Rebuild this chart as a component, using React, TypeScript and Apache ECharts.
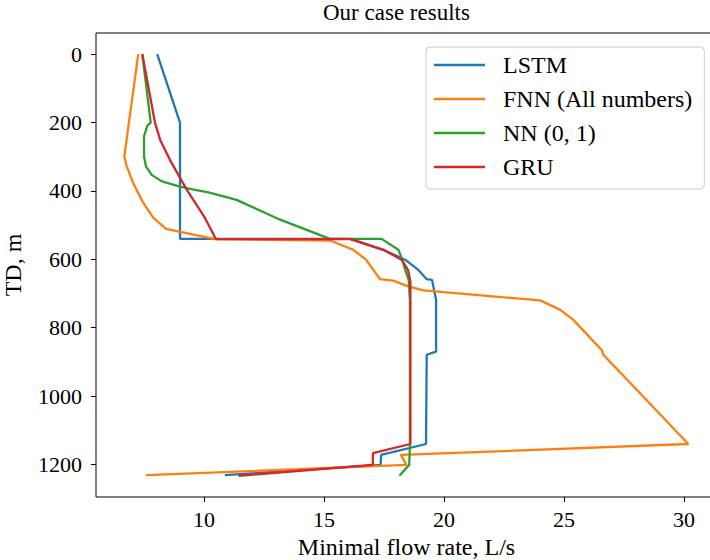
import React, { useEffect, useRef } from "react";
import * as echarts from "echarts";

// ---- Data ----
const seriesNames = ["LSTM", "FNN (All numbers)", "NN (0, 1)", "GRU"];
const seriesColors = ["#1f77b4", "#ff7f0e", "#2ca02c", "#d62728"];

const lstmRate = [8.05, 9.0, 9.0, 16.1, 17.47, 18.38, 18.93, 19.28, 19.5, 19.67, 19.67, 19.28, 19.25, 17.38, 17.36, 10.87];
const lstmDepth = [0, 200, 540, 540, 572, 601, 631, 658, 660, 718, 870, 879, 1140, 1172, 1201, 1231];

const fnnRate = [7.26, 6.68, 6.78, 7.05, 7.47, 7.89, 8.42, 10.46, 15.25, 16.22, 16.75, 17.33, 17.89, 18.51, 19.14, 24.0, 24.83, 25.39, 26.57, 26.64, 30.18, 18.2, 18.44, 7.58];
const fnnDepth = [0, 299, 328, 377, 435, 479, 511, 541, 545, 572, 601, 658, 662, 679, 691, 720, 747, 777, 865, 879, 1140, 1172, 1201, 1231];

const nnRate = [7.43, 7.78, 7.64, 7.5, 7.5, 7.58, 7.82, 8.24, 9.0, 9.42, 10.18, 11.36, 13.17, 15.25, 17.4, 18.1, 18.26, 18.38, 18.53, 18.58, 18.58, 18.55, 18.14];
const nnDepth = [0, 200, 209, 240, 299, 328, 353, 372, 387, 394, 404, 426, 484, 540, 540, 572, 600, 630, 660, 720, 1147, 1201, 1233];

const gruRate = [7.43, 7.96, 8.17, 8.58, 9.28, 10.04, 10.5, 16.1, 17.47, 18.23, 18.5, 18.6, 18.6, 17.04, 17.03, 11.43];
const gruDepth = [0, 201, 250, 309, 396, 479, 541, 541, 572, 601, 631, 665, 1140, 1167, 1201, 1233];

const xTicks = [10, 15, 20, 25, 30];
const yTicks = [0, 200, 400, 600, 800, 1000, 1200];

const titleText = "Our case results";
const xAxisName = "Minimal flow rate, L/s";
const yAxisName = "TD, m";

const FONT = "'Liberation Serif', 'DejaVu Serif', serif";

function pairs(xs: number[], ys: number[]): number[][] {
  return xs.map((x, i) => [x, ys[i]]);
}

export default function App() {
  const ref = useRef<HTMLDivElement>(null);

  useEffect(() => {
    if (!ref.current) return;
    const chart = echarts.init(ref.current, undefined, { renderer: "svg" });

    const allData = [
      pairs(lstmRate, lstmDepth),
      pairs(fnnRate, fnnDepth),
      pairs(nnRate, nnDepth),
      pairs(gruRate, gruDepth),
    ];

    const option: any = {
      animation: false,
      backgroundColor: "#ffffff",
      textStyle: { fontFamily: FONT },
      grid: {
        left: 96,
        top: 33,
        width: 621,
        height: 464,
        containLabel: false,
        outerBoundsMode: "none",
        show: true,
        borderColor: "#000000",
        borderWidth: 1,
        backgroundColor: "transparent",
      },
      graphic: [
        {
          type: "text",
          left: 323,
          top: 1,
          style: {
            text: titleText,
            font: `23px ${FONT}`,
            fill: "#000000",
          },
        },
      ],
      xAxis: {
        type: "value",
        min: 5.5,
        max: 31.375,
        name: xAxisName,
        nameLocation: "middle",
        nameGap: 36,
        nameTextStyle: { fontSize: 24, color: "#000", fontFamily: FONT },
        axisLine: { show: false, onZero: false },
        axisTick: {
          show: true,
          length: 5,
          inside: false,
          customValues: xTicks,
          lineStyle: { color: "#000", width: 1 },
        },
        axisLabel: {
          customValues: xTicks,
          formatter: (v: number) => String(v),
          fontSize: 22,
          color: "#000",
          margin: 11,
          fontFamily: FONT,
        },
        splitLine: { show: false },
      },
      yAxis: {
        type: "value",
        inverse: true,
        min: -62,
        max: 1295,
        name: yAxisName,
        nameLocation: "middle",
        nameGap: 71,
        nameRotate: 90,
        nameTextStyle: { fontSize: 24, color: "#000", fontFamily: FONT },
        axisLine: { show: false, onZero: false },
        axisTick: {
          show: true,
          length: 5,
          inside: false,
          customValues: yTicks,
          lineStyle: { color: "#000", width: 1 },
        },
        axisLabel: {
          customValues: yTicks,
          formatter: (v: number) => String(v),
          fontSize: 22,
          color: "#000",
          margin: 14,
          fontFamily: FONT,
        },
        splitLine: { show: false },
      },
      legend: {
        orient: "vertical",
        left: 426,
        top: 47,
        icon: "rect",
        itemWidth: 51,
        itemHeight: 2.5,
        itemGap: 10,
        padding: [6, 12, 10, 8],
        backgroundColor: "rgba(255,255,255,0.8)",
        borderColor: "#cccccc",
        borderWidth: 1,
        borderRadius: 4,
        data: seriesNames,
        textStyle: {
          fontSize: 24,
          lineHeight: 24,
          color: "#000",
          fontFamily: FONT,
          padding: [0, 0, 0, 13],
        },
      },
      series: seriesNames.map((name, i) => ({
        name,
        type: "line",
        data: allData[i],
        showSymbol: false,
        symbol: "none",
        color: seriesColors[i],
        lineStyle: { color: seriesColors[i], width: 2.3 },
        itemStyle: { color: seriesColors[i] },
        z: 2 + i,
      })),
    };

    chart.setOption(option);
    return () => {
      chart.dispose();
    };
  }, []);

  return (
    <div
      ref={ref}
      style={{ position: "fixed", left: 0, top: 0, width: 710, height: 560 }}
    />
  );
}
